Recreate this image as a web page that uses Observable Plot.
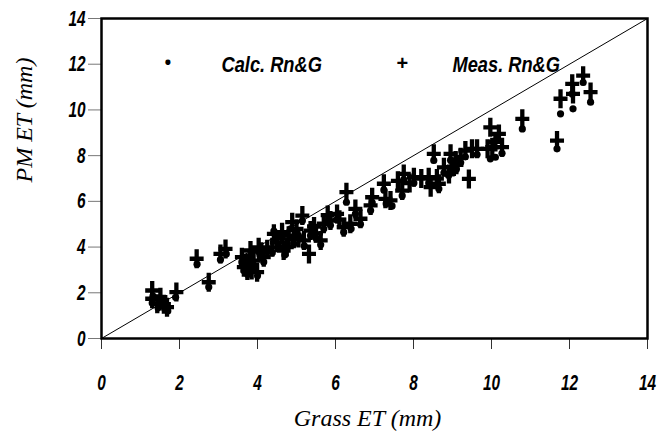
<!DOCTYPE html>
<html>
<head>
<meta charset="utf-8">
<script src="https://cdn.jsdelivr.net/npm/d3@7"></script>
<script src="https://cdn.jsdelivr.net/npm/@observablehq/plot@0.6"></script>
<style>
  html, body { margin: 0; padding: 0; background: #fff; }
</style>
</head>
<body>
<div id="chart"></div>
<script>
// Measured Rn&G (plus markers)
const measX = [1.30,1.30,1.43,1.51,1.60,1.68,1.92,2.44,2.75,3.05,3.18,3.60,3.65,3.70,3.74,3.82,3.85,3.90,3.99,4.03,4.10,4.16,4.25,4.38,4.42,4.50,4.63,4.67,4.75,4.80,4.89,4.93,5.00,5.05,5.15,5.19,5.32,5.36,5.45,5.50,5.62,5.70,5.80,5.87,6.04,6.10,6.21,6.28,6.38,6.51,6.64,6.90,6.94,7.24,7.28,7.41,7.60,7.71,7.75,7.90,8.01,8.20,8.39,8.44,8.52,8.60,8.65,8.78,8.91,8.95,9.00,9.08,9.10,9.21,9.33,9.42,9.50,9.63,9.90,9.97,10.02,10.10,10.19,10.27,10.79,11.68,11.77,12.07,12.09,12.35,12.54];
const measY = [1.74,2.10,1.52,1.81,1.50,1.37,2.03,3.49,2.46,3.70,3.92,3.56,3.12,3.30,2.97,3.85,3.00,3.41,2.90,3.99,3.80,3.56,3.90,3.99,4.58,4.20,4.65,3.85,4.00,4.50,5.09,4.36,4.80,4.40,5.38,4.29,3.70,4.72,4.90,4.60,4.29,5.02,5.40,5.16,5.45,5.20,4.87,6.40,5.02,5.67,5.24,5.82,6.18,6.77,6.11,6.04,6.90,6.47,7.20,6.80,7.06,7.00,7.06,6.62,8.08,7.00,6.77,7.49,7.20,8.08,7.50,7.79,7.60,7.93,8.22,6.98,8.30,8.30,8.30,9.24,8.37,8.60,8.95,8.37,9.61,8.66,10.49,11.14,10.70,11.50,10.78];
// Calculated Rn&G (dot markers)
const calcX = [1.30,1.32,1.45,1.50,1.62,1.70,1.90,2.45,2.75,3.05,3.20,3.60,3.66,3.75,3.82,3.90,4.00,4.05,4.16,4.38,4.42,4.55,4.63,4.70,4.85,4.93,5.05,5.15,5.20,5.36,5.50,5.62,5.70,5.87,6.04,6.21,6.28,6.40,6.51,6.64,6.90,6.94,7.24,7.30,7.45,7.71,7.75,8.01,8.39,8.52,8.65,8.78,8.90,8.95,9.10,9.21,9.33,9.63,9.97,10.10,10.27,10.79,11.68,11.77,12.07,12.09,12.35,12.54];
const calcY = [1.55,1.85,1.35,1.60,1.30,1.20,1.80,3.25,2.25,3.45,3.70,3.35,2.95,2.80,3.60,3.20,2.75,3.75,3.35,3.75,4.70,4.00,4.40,3.65,4.80,4.15,4.50,5.15,4.05,4.50,4.40,4.10,4.80,4.95,5.20,4.65,5.96,4.80,5.45,5.00,5.60,5.95,6.50,5.90,5.80,6.25,6.95,6.80,6.80,7.79,6.55,7.25,7.13,7.80,7.40,7.70,7.95,8.05,7.86,7.93,8.10,9.17,8.30,9.83,10.70,10.05,11.20,10.34];
const ticks = [0, 2, 4, 6, 8, 10, 12, 14];
const domain = [0, 14];
const legendLabels = ["Calc. Rn&G", "Meas. Rn&G"];
const xTitle = "Grass ET (mm)";
const yTitle = "PM ET (mm)";

const meas = measX.map((x, i) => ({x, y: measY[i]}));
const calc = calcX.map((x, i) => ({x, y: calcY[i]}));

const sans = '"Liberation Sans",Arial,sans-serif';
const serif = '"Liberation Serif","Times New Roman",serif';

const plusSymbol = {
  draw(ctx) {
    ctx.moveTo(-7, 0); ctx.lineTo(7, 0);
    ctx.moveTo(0, -9.5); ctx.lineTo(0, 9.5);
  }
};

const labelFont = {fontFamily: sans, fontWeight: "bold", fontStyle: "italic", fill: "black"};

const chart = Plot.plot({
  width: 658,
  height: 436,
  marginLeft: 101,
  marginRight: 11,
  marginTop: 18,
  marginBottom: 98,
  x: {domain, ticks},
  y: {domain, ticks},
  marks: [
    Plot.axisX({ticks, tickSize: 11, tickPadding: 25, stroke: "#333", label: null, fontSize: 22, ...labelFont}),
    Plot.axisY({ticks, tickSize: 13, tickPadding: 3, stroke: "#777", label: null, fontSize: 22, ...labelFont}),
    Plot.line(domain, {x: d => d, y: d => d, stroke: "black", strokeWidth: 1}),
    Plot.dot(calc, {x: "x", y: "y", r: 3.6, fill: "black", stroke: "none"}),
    Plot.dot(meas, {x: "x", y: "y", symbol: plusSymbol, stroke: "black", strokeWidth: 4.3, fill: "none", strokeLinecap: "butt"}),
    Plot.frame({stroke: "black", strokeWidth: 2.5}),
    // legend
    Plot.text(["•"], {frameAnchor: "top-left", dx: 63, dy: 38, fontSize: 18, fontWeight: "bold", fill: "black"}),
    Plot.text([legendLabels[0]], {frameAnchor: "top-left", dx: 120, dy: 38, textAnchor: "start", fontSize: 22, ...labelFont}),
    Plot.text(["+"], {frameAnchor: "top-left", dx: 295, dy: 37, fontSize: 20, fontWeight: "bold", fontFamily: sans, fill: "black"}),
    Plot.text([legendLabels[1]], {frameAnchor: "top-left", dx: 351, dy: 38, textAnchor: "start", fontSize: 22, ...labelFont}),
    // axis titles
    Plot.text([xTitle], {frameAnchor: "bottom", dx: -7, dy: 87, fontFamily: serif, fontSize: 24, fontStyle: "italic", fill: "black"}),
    Plot.text([yTitle], {frameAnchor: "left", dx: -77, dy: 4, rotate: -90, fontFamily: serif, fontSize: 24, fontStyle: "italic", fill: "black"})
  ]
});
// condense the bold italic labels to mimic a narrow face
const condense = (t, k) => {
  const tr = t.getAttribute("transform") || "";
  t.setAttribute("transform", (tr + ` scale(${k},1)`).trim());
};
chart.querySelectorAll('g[aria-label="x-axis tick label"] text, g[aria-label="y-axis tick label"] text').forEach(t => condense(t, 0.7));
chart.querySelectorAll('text').forEach(t => {
  if (legendLabels.includes(t.textContent)) condense(t, 0.83);
});
document.getElementById("chart").appendChild(chart);
</script>
</body>
</html>
